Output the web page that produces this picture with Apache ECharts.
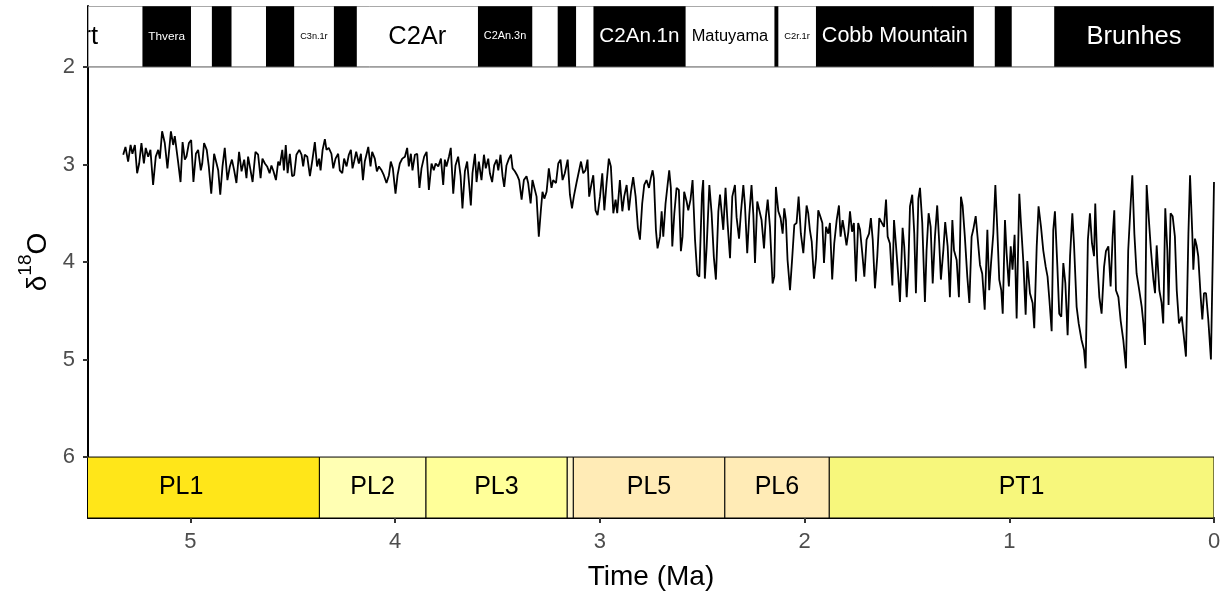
<!DOCTYPE html>
<html>
<head>
<meta charset="utf-8">
<title>δ18O</title>
<script src="https://cdn.jsdelivr.net/npm/echarts@6/dist/echarts.min.js"></script>
<style>
  html, body { margin: 0; background: #ffffff; }
  #chart { width: 1231px; height: 598px; }
</style>
</head>
<body>
<div id="chart"></div>
<script>
// δ18O record (age in Ma, oldest first)
var agePliocene = [5.328,5.317,5.304,5.292,5.283,5.271,5.260,5.250,5.239,5.227,
  5.218,5.206,5.195,5.182,5.169,5.157,5.149,5.138,5.125,5.112,
  5.095,5.084,5.076,5.060,5.048,5.038,5.027,5.019,5.007,4.996,
  4.985,4.973,4.962,4.949,4.942,4.933,4.920,4.910,4.898,4.884,
  4.872,4.864,4.854,4.843,4.832,4.819,4.807,4.797,4.786,4.775,
  4.762,4.750,4.737,4.726,4.718,4.706,4.696,4.682,4.669,4.657,
  4.648,4.636,4.625,4.613,4.604,4.594,4.582,4.571,4.563,4.551,
  4.543,4.534,4.525,4.514,4.503,4.493,4.482,4.468,4.457,4.449,
  4.441,4.429,4.416,4.403,4.392,4.381,4.371,4.364,4.354,4.343,
  4.335,4.324,4.311,4.302,4.291,4.278,4.270,4.258,4.249,4.237,
  4.226,4.216,4.208,4.200,4.190,4.177,4.167,4.157,4.148,4.140,
  4.131,4.120,4.112,4.099,4.089,4.079,4.066,4.055,4.042,4.030,
  4.021,4.011,3.998,3.988,3.977,3.965,3.952,3.941,3.933,3.923,
  3.915,3.903,3.892,3.881,3.871,3.858,3.846,3.835,3.822,3.811,
  3.802,3.789,3.776,3.765,3.757,3.749,3.737,3.728,3.716,3.705,
  3.692,3.680,3.671,3.659,3.648,3.638,3.630,3.622,3.610,3.602,
  3.591,3.578,3.566,3.557,3.545,3.537,3.526,3.516,3.504,3.496,
  3.485,3.475,3.467,3.456,3.444,3.434,3.426,3.415,3.404,3.394,
  3.382,3.371,3.358,3.350,3.338,3.329];
var d18OPliocene = [2.90,2.82,2.97,2.80,2.89,2.80,3.09,2.99,2.78,2.99,
  2.83,2.92,2.85,3.21,2.92,2.85,2.94,2.66,2.78,3.04,
  2.66,2.80,2.71,2.97,3.18,2.77,2.95,2.92,2.78,2.75,
  3.18,2.89,2.85,3.06,2.99,2.78,2.85,3.02,3.30,2.89,
  2.99,3.06,3.31,3.02,2.83,3.16,3.02,2.95,3.06,3.19,
  2.87,3.07,2.95,3.14,2.92,3.06,3.18,2.87,2.90,3.14,
  2.94,2.99,3.02,3.09,3.01,3.07,3.16,2.97,3.01,2.85,
  3.06,2.80,3.09,2.89,3.12,3.11,2.90,2.85,2.90,3.02,
  2.90,2.92,3.12,2.94,2.77,3.02,2.94,3.06,2.85,2.74,
  2.85,2.83,2.89,3.04,2.94,2.89,3.06,3.09,2.94,3.02,
  2.90,2.85,3.04,2.97,2.87,2.99,2.89,3.16,2.97,2.90,
  2.82,3.02,2.87,2.94,3.07,3.02,3.06,3.11,3.19,3.11,
  2.97,3.04,3.30,3.11,2.99,2.94,2.92,2.83,3.02,2.89,
  3.06,2.90,2.89,3.24,3.04,2.92,2.87,3.26,2.99,3.06,
  2.99,3.02,2.94,3.21,2.95,3.02,2.92,2.83,3.30,3.01,
  2.92,3.12,3.45,3.07,2.97,3.21,3.42,3.09,2.89,3.18,
  2.97,3.16,2.90,3.04,2.94,3.09,3.18,3.01,2.95,3.06,
  2.90,3.12,3.23,3.01,2.94,2.90,3.04,3.07,3.11,3.16,
  3.36,3.16,3.12,3.19,3.40,3.16];

var ageTransition = [3.309,3.298,3.288,3.280,3.271,3.260,3.249,3.236,3.228,3.214,
  3.203,3.192,3.182,3.171,3.157,3.146,3.136,3.127,3.114,3.102,
  3.092,3.081,3.070,3.060,3.052,3.040,3.032,3.021,3.011,2.999,
  2.988,2.978,2.967,2.956,2.946,2.934,2.923,2.915,2.902,2.890,
  2.881,2.869,2.858,2.848,2.837,2.825,2.814,2.804,2.793,2.783,
  2.772,2.760,2.750,2.742,2.736,2.726,2.718,2.706,2.698,2.690,
  2.679,2.669,2.661,2.653,2.646,2.636,2.625,2.614,2.604,2.596,
  2.588,2.576,2.568,2.557,2.547,2.535,2.524,2.514,2.501,2.495,
  2.487,2.478,2.465,2.454,2.443,2.433,2.421,2.413,2.405,2.397,
  2.386,2.376,2.364,2.353,2.340,2.332,2.320,2.311,2.299,2.291,
  2.280,2.270,2.259,2.250,2.242,2.231,2.221,2.210,2.198,2.189,
  2.180,2.169,2.156,2.148,2.140,2.128,2.117,2.107,2.099,2.091,
  2.083,2.071,2.060,2.050,2.039,2.029,2.018,2.006,1.998,1.990,
  1.982,1.974,1.965,1.954,1.944,1.933,1.922,1.913,1.905,1.895,
  1.884,1.876,1.865,1.855,1.843,1.832,1.824,1.814,1.806,1.795,
  1.786,1.778,1.768,1.759,1.749,1.738,1.729,1.718,1.708,1.697,
  1.685,1.676,1.667,1.656,1.645,1.635];
var d18OTransition = [3.33,3.74,3.47,3.28,3.35,3.28,3.04,3.24,3.16,3.19,
  2.99,2.95,3.16,3.09,2.95,3.31,3.45,3.33,3.19,3.07,
  2.97,3.09,3.06,2.95,3.33,3.19,3.11,3.47,3.52,3.33,
  3.09,3.47,3.19,2.94,3.02,3.50,3.36,3.50,3.16,3.48,
  3.33,3.21,3.47,3.28,3.13,3.33,3.65,3.77,3.40,3.21,
  3.16,3.24,3.13,3.06,3.14,3.67,3.86,3.74,3.48,3.74,
  3.40,3.21,3.06,3.24,3.84,3.50,3.24,3.26,3.89,3.74,
  3.28,3.38,3.47,3.36,3.16,3.77,4.13,4.15,3.30,3.16,
  4.17,3.84,3.21,3.50,3.95,4.18,3.48,3.31,3.30,3.67,
  3.24,3.60,3.96,3.33,3.21,3.54,3.76,3.50,3.21,3.42,
  3.91,3.52,3.21,3.52,4.01,3.38,3.47,3.57,3.86,3.54,
  3.36,3.64,4.22,4.15,3.23,3.48,3.55,3.71,3.45,3.57,
  3.98,4.29,3.95,3.62,3.60,3.33,3.71,3.91,3.67,3.42,
  3.50,3.67,3.79,4.17,3.96,3.47,3.54,3.60,4.01,3.64,
  3.71,3.60,4.18,3.81,3.57,3.42,3.74,3.57,3.67,3.83,
  3.69,3.48,3.69,3.60,4.20,3.60,3.67,3.91,4.15,3.77,
  3.71,3.55,3.77,4.27,3.95,3.55];

var agePleistocene = [1.612,1.602,1.594,1.583,1.571,1.563,1.554,1.542,1.534,1.521,
  1.513,1.501,1.493,1.485,1.474,1.464,1.456,1.444,1.436,1.425,
  1.412,1.404,1.394,1.384,1.374,1.363,1.352,1.342,1.334,1.322,
  1.313,1.301,1.290,1.278,1.270,1.257,1.246,1.236,1.228,1.217,
  1.205,1.195,1.184,1.176,1.164,1.155,1.143,1.132,1.120,1.107,
  1.098,1.089,1.078,1.068,1.059,1.049,1.039,1.032,1.021,1.013,
  1.002,0.993,0.984,0.974,0.964,0.951,0.943,0.931,0.920,0.912,
  0.899,0.886,0.878,0.866,0.857,0.845,0.834,0.822,0.813,0.804,
  0.793,0.785,0.777,0.765,0.756,0.746,0.736,0.726,0.715,0.703,
  0.692,0.684,0.671,0.661,0.647,0.635,0.627,0.616,0.606,0.596,
  0.586,0.580,0.570,0.560,0.549,0.537,0.528,0.516,0.505,0.495,
  0.487,0.479,0.467,0.456,0.443,0.430,0.419,0.407,0.399,0.389,
  0.378,0.365,0.353,0.345,0.337,0.329,0.318,0.308,0.296,0.288,
  0.280,0.267,0.256,0.248,0.238,0.228,0.222,0.212,0.202,0.191,
  0.182,0.171,0.158,0.147,0.137,0.125,0.117,0.106,0.101,0.093,
  0.085,0.077,0.065,0.057,0.049,0.039,0.028,0.015,0.006,0.000];
var d18OPleistocene = [3.64,3.36,3.74,3.81,4.24,3.57,3.81,4.15,4.41,3.65,
  3.84,4.36,4.05,3.43,3.31,3.71,4.32,3.35,3.24,3.60,
  4.41,3.88,3.50,3.64,4.22,3.74,3.42,3.81,4.18,3.88,
  3.59,3.84,4.36,3.57,3.88,3.98,4.36,3.33,3.42,3.74,
  4.15,4.42,3.74,3.67,3.53,3.74,4.03,4.12,4.49,3.67,
  4.29,4.01,3.71,3.21,3.64,4.18,4.29,4.53,3.57,3.91,
  4.25,3.84,4.08,3.72,4.58,3.30,3.60,4.01,4.54,3.99,
  4.32,4.42,4.68,3.84,3.43,3.64,3.88,4.05,4.15,4.39,
  4.71,3.67,3.48,4.05,4.53,4.56,4.01,4.22,4.75,3.94,
  3.50,3.81,4.46,4.63,4.80,4.90,5.09,3.77,3.50,3.81,
  3.94,3.40,4.01,4.36,4.53,4.05,3.89,3.84,4.25,3.74,
  3.47,4.29,4.36,4.60,4.80,5.09,3.88,3.40,3.11,3.71,
  4.12,4.29,4.46,4.63,4.85,3.21,3.57,3.88,4.18,4.32,
  3.83,4.29,4.42,4.63,3.45,3.88,4.44,3.50,3.53,3.74,
  4.29,4.63,4.56,4.77,4.97,3.71,3.11,3.71,4.08,3.76,
  3.83,3.94,4.36,4.59,4.32,4.32,4.59,5.00,3.94,3.18];

// geomagnetic polarity chrons (Ma), 1 = normal (black)
var chronYoung = [0, 0.781, 0.988, 1.072, 1.173, 1.945, 2.128, 2.148, 2.581, 3.032, 3.116,
  3.207, 3.330, 3.596, 4.187, 4.300, 4.493, 4.631, 4.799, 4.896, 4.997, 5.235];
var chronOld = [0.781, 0.988, 1.072, 1.173, 1.945, 2.128, 2.148, 2.581, 3.032, 3.116, 3.207,
  3.330, 3.596, 4.187, 4.300, 4.493, 4.631, 4.799, 4.896, 4.997, 5.235, 6.033];
var chronNormal = [1, 0, 1, 0, 1, 0, 1, 0, 1, 0, 1, 0, 1, 0, 1, 0, 1, 0, 1, 0, 1, 0];
var chronLabel = ['Brunhes', '', '', '', 'Cobb Mountain', 'C2r.1r', '', 'Matuyama', 'C2An.1n', '', '',
  '', 'C2An.3n', 'C2Ar', '', 'C3n.1r', '', '', '', '', 'Thvera', 'Gilbert'];

// foraminiferal zones (Ma)
var zoneName = ['PT1', 'PL6', 'PL5', 'PL4', 'PL3', 'PL2', 'PL1'];
var zoneYoung = [0, 1.88, 2.39, 3.13, 3.16, 3.85, 4.37];
var zoneOld = [1.88, 2.39, 3.13, 3.16, 3.85, 4.37, 5.72];
var zoneColor = ['#F7F77C', '#FFEBB6', '#FFEBB6', '#FFF6CC', '#FFFF99', '#FFFFB3', '#FFE619'];

var xTicks = [0, 1, 2, 3, 4, 5];
var yTicks = [2, 3, 4, 5, 6];
var polarityBand = [1.375, 2];
var zoneBand = [6, 6.625];

var font = '"Liberation Sans", Arial, sans-serif';
var measure = document.createElement('canvas').getContext('2d');
function fitSize(text, boxWidth) {
  measure.font = '100px ' + font;
  var w = measure.measureText(text).width;
  return Math.min(25.5, 100 * (boxWidth - 12) / w);
}

function bandRect(api, x0, x1, band) {
  var a = api.coord([x0, band[0]]);
  var b = api.coord([x1, band[1]]);
  return {
    x: Math.min(a[0], b[0]), y: Math.min(a[1], b[1]),
    width: Math.abs(a[0] - b[0]), height: Math.abs(a[1] - b[1])
  };
}

function renderChron(params, api) {
  var i = params.dataIndex;
  var r = bandRect(api, chronYoung[i], chronOld[i], polarityBand);
  var black = chronNormal[i] === 1;
  var children = [{
    type: 'rect', shape: r,
    style: { fill: black ? '#000000' : '#ffffff' }
  }];
  if (chronLabel[i]) {
    children.push({
      type: 'text', x: r.x + r.width / 2, y: r.y + r.height / 2, z2: 5,
      style: {
        text: chronLabel[i], fill: black ? '#ffffff' : '#000000',
        fontSize: fitSize(chronLabel[i], r.width), fontFamily: font,
        align: 'center', verticalAlign: 'middle'
      }
    });
  }
  if (i === 0) {
    var cs = params.coordSys;
    children.push({
      type: 'rect', z2: 10,
      shape: { x: cs.x, y: r.y, width: cs.width, height: r.height },
      style: { fill: 'none', stroke: '#555555', lineWidth: 1 }
    });
  }
  return { type: 'group', children: children };
}

function renderZone(params, api) {
  var i = params.dataIndex;
  var r = bandRect(api, zoneYoung[i], zoneOld[i], zoneBand);
  var children = [{
    type: 'rect', shape: r,
    style: { fill: zoneColor[i], stroke: '#000000', lineWidth: 1 }
  }];
  if (r.width > 40) {
    children.push({
      type: 'text', x: r.x + r.width / 2, y: r.y + r.height / 2, z2: 5,
      style: {
        text: zoneName[i], fill: '#000000', fontSize: 25, fontFamily: font,
        align: 'center', verticalAlign: 'middle'
      }
    });
  }
  return { type: 'group', children: children };
}

var ages = agePliocene.concat(ageTransition, agePleistocene);
var d18O = d18OPliocene.concat(d18OTransition, d18OPleistocene);
var curve = ages.map(function (a, i) { return [a, d18O[i]]; });

var chart = echarts.init(document.getElementById('chart'));
chart.setOption({
  animation: false,
  backgroundColor: '#ffffff',
  grid: { left: 88, right: 17, top: 6, bottom: 80 },
  xAxis: {
    type: 'value', inverse: true, min: 0, max: 5.5,
    name: 'Time (Ma)', nameLocation: 'middle', nameGap: 45,
    nameTextStyle: { fontSize: 28, color: '#000000', fontFamily: font },
    splitLine: { show: false },
    axisLine: { onZero: false, lineStyle: { color: '#000000', width: 2 } },
    axisTick: { length: 5, customValues: xTicks, lineStyle: { color: '#333333', width: 2 } },
    axisLabel: { customValues: xTicks, fontSize: 22, color: '#4D4D4D', margin: 13, fontFamily: font }
  },
  yAxis: {
    type: 'value', inverse: true, min: 1.375, max: 6.625,
    name: '{t|δ}{s|18}{t|O}', nameLocation: 'middle', nameRotate: 90, nameGap: 32,
    nameTextStyle: {
      rich: {
        t: { fontSize: 28, fontFamily: font, color: '#000000', lineHeight: 36, verticalAlign: 'bottom' },
        s: { fontSize: 19, fontFamily: font, color: '#000000', lineHeight: 20, verticalAlign: 'top' }
      }
    },
    splitLine: { show: false },
    axisLine: { onZero: false, lineStyle: { color: '#000000', width: 2 } },
    axisTick: { length: 5, customValues: yTicks, lineStyle: { color: '#333333', width: 2 } },
    axisLabel: { customValues: yTicks, fontSize: 22, color: '#4D4D4D', margin: 13, fontFamily: font }
  },
  series: [
    {
      type: 'custom', name: 'chrons', clip: true, z: 3,
      data: chronYoung.map(function (v, i) { return [v, chronOld[i]]; }),
      encode: { x: [0, 1] },
      renderItem: renderChron
    },
    {
      type: 'custom', name: 'zones', clip: true, z: 3,
      data: zoneYoung.map(function (v, i) { return [v, zoneOld[i]]; }),
      encode: { x: [0, 1] },
      renderItem: renderZone
    },
    {
      type: 'line', name: 'd18O', data: curve, showSymbol: false, z: 4,
      lineStyle: { color: '#000000', width: 1.8 }
    }
  ]
});
</script>
</body>
</html>
